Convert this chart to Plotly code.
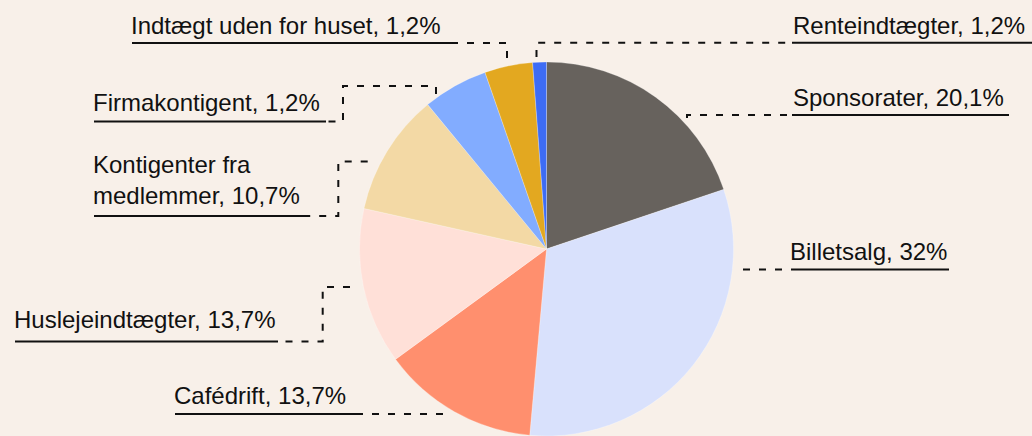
import plotly.graph_objects as go

# Income split, clockwise from 12 o'clock
categories = [
    "Sponsorater",
    "Billetsalg",
    "Cafédrift",
    "Huslejeindtægter",
    "Kontigenter fra<br>medlemmer",
    "Firmakontigent",
    "Indtægt uden for huset",
    "Renteindtægter",
]
shares = [20.1, 32.0, 13.7, 13.7, 10.7, 5.7, 4.2, 1.2]
pct_text = ["20,1%", "32%", "13,7%", "13,7%", "10,7%", "1,2%", "1,2%", "1,2%"]

colors = ["#67625d", "#d9e1fc", "#ff8f6e", "#ffe0d8",
          "#f3d9a5", "#82acff", "#e3a820", "#3d6cf5"]

W, H = 1032, 436
BG = "#f8f0e9"
FONT = "Liberation Sans, Arial, sans-serif"
FS = 24


def px(x):
    return x / W


def py(y):
    return 1 - y / H


# Label placement in pixels: ink-left of text, baseline of last line,
# underline y and right end, and the dashed leader path (pie end -> label)
label_layout = {
    "Sponsorater": dict(x=794, base=106, uy=115, ux0=792, ux1=1009,
                        path=[(687, 118), (687, 115), (792, 115)]),
    "Billetsalg": dict(x=791, base=260, uy=269.5, ux0=791, ux1=949,
                       path=[(743, 269.5), (791, 269.5)]),
    "Cafédrift": dict(x=175, base=404, uy=414, ux0=175, ux1=358,
                      path=[(443, 414), (358, 414)]),
    "Huslejeindtægter": dict(x=15, base=327.5, uy=341.5, ux0=15, ux1=278,
                             path=[(350, 287), (322.7, 287), (322.7, 341.5), (278, 341.5)]),
    "Kontigenter fra<br>medlemmer": dict(x=94, base=204, uy=216, ux0=94, ux1=308,
                                         path=[(367.7, 161.5), (338.3, 161.5), (338.3, 216), (308, 216)]),
    "Firmakontigent": dict(x=94, base=110.7, uy=121.5, ux0=94, ux1=326,
                           path=[(436, 94), (436, 86), (343, 86), (343, 121.5), (326, 121.5)]),
    "Indtægt uden for huset": dict(x=132, base=34, uy=43, ux0=132, ux1=453,
                                   path=[(507, 58), (507, 43), (453, 43)]),
    "Renteindtægter": dict(x=794, base=33.3, uy=42.7, ux0=792, ux1=1032,
                           path=[(536.5, 57), (536.5, 42.7), (792, 42.7)]),
}

fig = go.Figure()

# Pie centred at x~546px, radius ~187px
cx, r = 546.5, 187.0
fig.add_trace(go.Pie(
    labels=categories,
    values=shares,
    sort=False,
    direction="clockwise",
    rotation=0,
    textinfo="none",
    hoverinfo="skip",
    marker=dict(colors=colors, line=dict(color="rgba(255,255,255,0.5)", width=0.5)),
    domain=dict(x=[px(cx - 200), px(cx + 200)], y=[0, (2 * r) / H]),
    showlegend=False,
))

shapes = []
annotations = []
LINE_H = FS * 1.3
for cat, pct in zip(categories, pct_text):
    L = label_layout[cat]
    text = f"{cat}, {pct}"
    n_lines = text.count("<br>") + 1
    # centre of the annotation box relative to last baseline
    y_mid = L["base"] - 8.3 - (n_lines - 1) * LINE_H / 2
    annotations.append(dict(
        x=px(L["x"] - 3), y=py(y_mid), xref="paper", yref="paper",
        xanchor="left", yanchor="middle", align="left",
        text=text, showarrow=False,
        font=dict(family=FONT, size=FS, color="#111111"),
    ))
    # solid underline
    shapes.append(dict(
        type="line", xref="paper", yref="paper",
        x0=px(L["ux0"]), x1=px(L["ux1"]), y0=py(L["uy"]), y1=py(L["uy"]),
        line=dict(color="#111111", width=2),
    ))
    # dashed leader
    pts = L["path"]
    d = "M " + " L ".join(f"{px(x):.5f},{py(y):.5f}" for x, y in pts)
    shapes.append(dict(
        type="path", xref="paper", yref="paper", path=d,
        line=dict(color="#111111", width=2, dash="7px,9px"),
    ))

fig.update_layout(
    width=W, height=H,
    margin=dict(l=0, r=0, t=0, b=0),
    paper_bgcolor=BG, plot_bgcolor=BG,
    shapes=shapes, annotations=annotations,
)

fig.write_html("out.html")
